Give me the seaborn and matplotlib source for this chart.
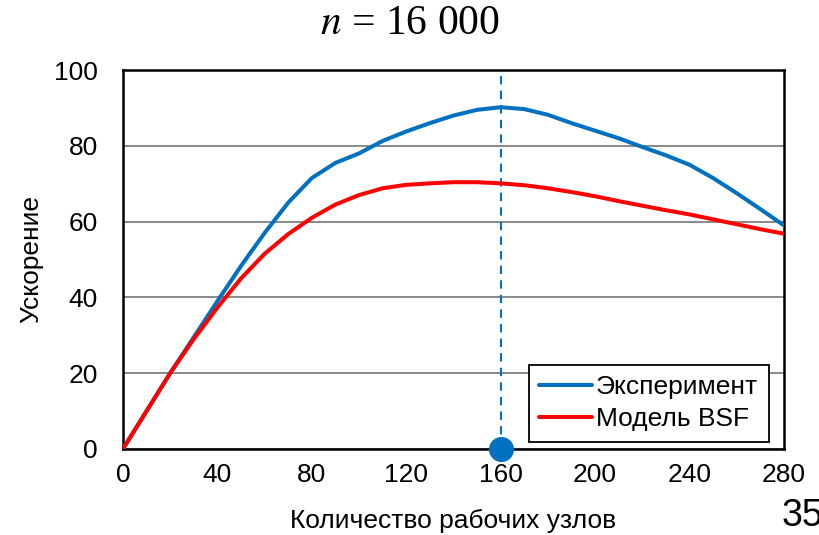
import matplotlib
matplotlib.use("Agg")
import matplotlib.pyplot as plt
import seaborn as sns
import pandas as pd

# Данные
nodes = [0, 10, 20, 30, 40, 50, 60, 70, 80, 90, 100, 110, 120, 130, 140,
         150, 160, 170, 180, 190, 200, 210, 220, 230, 240, 250, 260, 270, 280]
experiment = [0, 10, 20, 29.5, 39, 48.3, 57, 65, 71.5, 75.5, 78, 81.3, 83.8, 86, 88,
              89.5, 90.2, 89.7, 88.2, 86, 84, 82, 79.7, 77.5, 75, 71.5, 67.5, 63.3, 59]
model_bsf = [0, 10, 20, 29, 37.3, 45, 51.5, 56.7, 61, 64.5, 67, 68.8, 69.7, 70.1, 70.4,
             70.4, 70.1, 69.6, 68.8, 67.8, 66.7, 65.4, 64.2, 63, 61.9, 60.6, 59.3, 58, 56.8]
best_nodes = [160]
best_y = [0]

df = pd.DataFrame({"nodes": nodes, "Эксперимент": experiment, "Модель BSF": model_bsf})
long = df.melt(id_vars="nodes", var_name="series", value_name="speedup")

sns.set_style("white")
plt.rcParams["font.family"] = ["Liberation Sans", "DejaVu Sans"]
plt.rcParams.update({"text.color": "black", "axes.labelcolor": "black",
                     "xtick.color": "black", "ytick.color": "black"})

fig = plt.figure(figsize=(8.2, 5.35), dpi=100)
ax = fig.add_axes([0.15, 0.161, 0.806, 0.708])

ax.axvline(160, ymin=0, ymax=1, color="#0070C0", lw=1.5, ls=(0, (4, 3)), zorder=2)
sns.lineplot(data=long, x="nodes", y="speedup", hue="series",
             palette={"Эксперимент": "#0070C0", "Модель BSF": "#FF0000"},
             lw=2.9, ax=ax, zorder=3)
ax.plot(best_nodes, best_y, "o", color="#0070C0", ms=17, zorder=5, clip_on=False)

ax.set_xlim(0, 280)
ax.set_ylim(0, 100)
ax.set_xticks(range(0, 281, 40))
ax.set_yticks(range(0, 101, 20))
ax.yaxis.grid(True, color="#808080", lw=1.3)
ax.xaxis.grid(False)
ax.set_axisbelow(True)
for s in ax.spines.values():
    s.set_color("black")
    s.set_linewidth(1.8)
ax.tick_params(axis="x", length=6, width=1.3, direction="out",
               labelsize=19, pad=4)
ax.tick_params(axis="y", length=0, labelsize=19, pad=18)

ax.set_xlabel("Количество рабочих узлов", fontsize=19, labelpad=16)
ax.set_ylabel("Ускорение", fontsize=19, labelpad=8)

leg = ax.legend(loc="lower right", bbox_to_anchor=(0.985, 0.005), fontsize=19,
                frameon=True, fancybox=False, handlelength=2.0, handletextpad=0.15,
                borderpad=0.4, labelspacing=0.3, borderaxespad=0.2)
leg.get_frame().set_edgecolor("black")
leg.get_frame().set_linewidth(1.3)
leg.get_frame().set_alpha(1)
leg.set_title(None)

fig.text(0.5, 0.955, "$n$ = 16 000", ha="center", va="center", fontsize=30,
         family="Liberation Serif", math_fontfamily="stix")
fig.text(0.953, 0.035, "35", ha="left", va="center", fontsize=27)

fig.savefig("out.png", dpi=100)
